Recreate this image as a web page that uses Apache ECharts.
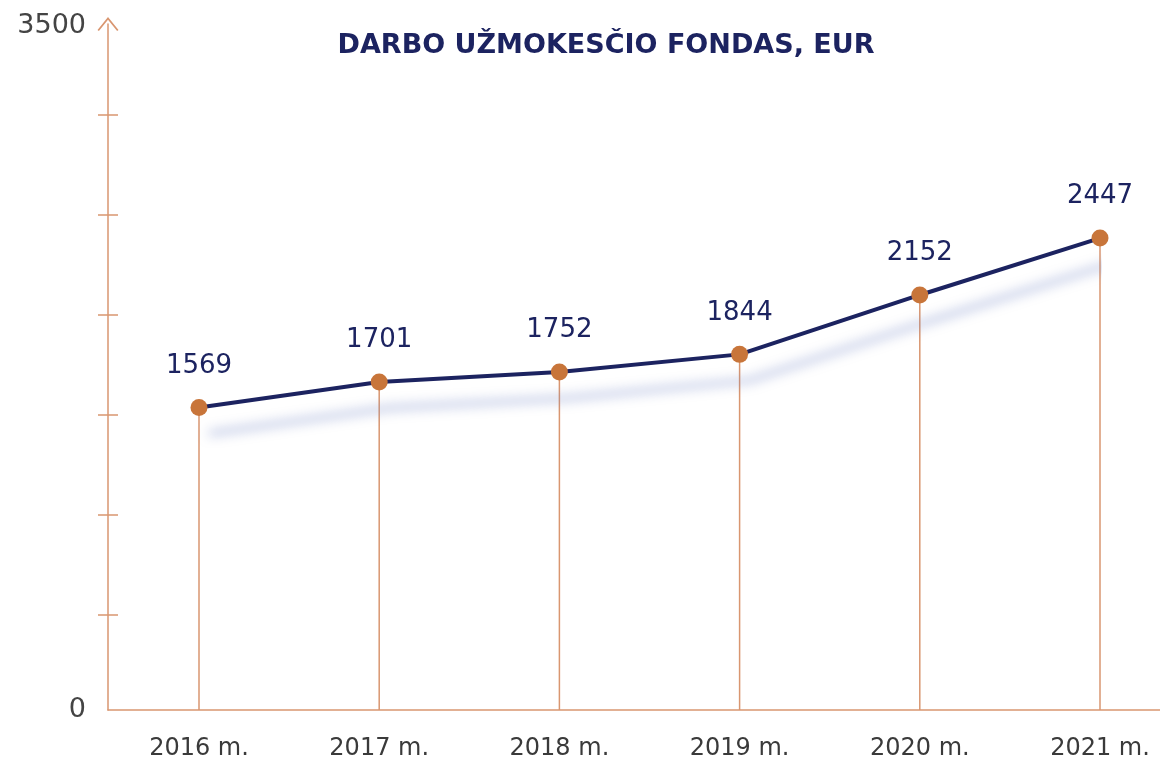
<!DOCTYPE html>
<html>
<head>
<meta charset="utf-8">
<script src="https://cdn.jsdelivr.net/npm/echarts@6/dist/echarts.min.js"></script>
<style>
  html, body { margin: 0; padding: 0; background: #fff; }
  #chart { width: 1160px; height: 763px; }
</style>
</head>
<body>
<div id="chart"></div>
<script>
// values
const years = ["2016 m.", "2017 m.", "2018 m.", "2019 m.", "2020 m.", "2021 m."];
const fund = [1569, 1701, 1752, 1844, 2152, 2447];
const yLabels = [0, 3500];
const yTicks = [500, 1000, 1500, 2000, 2500, 3000];

const orange = "#d99670";
const navy = "#1c2360";
const font = "DejaVu Sans";

const chart = echarts.init(document.getElementById("chart"));

chart.setOption({
  backgroundColor: "#fff",
  animation: false,
  title: {
    text: "DARBO UŽMOKESČIO FONDAS, EUR",
    left: 601,
    top: 27,
    textAlign: "center",
    textStyle: {
      fontFamily: font,
      fontSize: 27,
      fontWeight: "bold",
      color: navy
    }
  },
  grid: [
    // data
    { left: 199, width: 901, top: 35, bottom: 53 },
    // y axis line and arrow
    { left: 108, right: 2, top: 24, bottom: 53 },
    // x axis line and the two y labels
    { left: 108, right: 0, top: 35, bottom: 53 },
    // ticks crossing the y axis line
    { left: 118, right: 2, top: 24, bottom: 53 }
  ],
  xAxis: [
    {
      type: "category",
      gridIndex: 0,
      data: years,
      boundaryGap: false,
      axisLine: { show: false },
      axisTick: { show: false },
      axisLabel: {
        fontFamily: font,
        fontSize: 24,
        color: "#3a3a3a",
        margin: 27
      }
    },
    { type: "value", gridIndex: 1, show: false },
    {
      type: "value",
      gridIndex: 2,
      axisLine: { show: true, lineStyle: { color: orange, width: 1.5 } },
      axisTick: { show: false },
      axisLabel: { show: false },
      splitLine: { show: false }
    },
    { type: "value", gridIndex: 3, show: false }
  ],
  yAxis: [
    { type: "value", gridIndex: 0, min: 0, max: 3500, show: false },
    {
      type: "value",
      gridIndex: 1,
      min: 25,
      max: 3455,
      axisLine: {
        show: true,
        symbol: ["none", "path://M0,13 L10.5,0 L21,13 L19.6,13.9 L10.5,2.6 L1.4,13.9 Z"],
        symbolSize: [21, 14],
        lineStyle: { color: orange, width: 1.5 }
      },
      axisTick: { show: false },
      axisLabel: { show: false },
      splitLine: { show: false }
    },
    {
      type: "value",
      gridIndex: 2,
      min: 0,
      max: 3500,
      interval: 500,
      axisLine: { show: false },
      axisTick: { show: false },
      splitLine: { show: false },
      axisLabel: {
        margin: 22,
        fontFamily: font,
        fontSize: 27,
        color: "#444",
        formatter: v => yLabels.indexOf(v) === -1 ? "" :
          (v === 3500 ? "{top|" + v + "}" : "" + v),
        rich: {
          top: { fontFamily: font, fontSize: 27, color: "#444", padding: [0, 0, 18, 0] }
        }
      }
    },
    {
      type: "value",
      gridIndex: 3,
      min: 25,
      max: 3455,
      axisLine: { show: true, lineStyle: { color: orange, opacity: 0 } },
      axisTick: {
        show: true,
        length: 20,
        customValues: yTicks,
        lineStyle: { color: orange, width: 1.5 }
      },
      axisLabel: { show: false },
      splitLine: { show: false }
    }
  ],
  series: [
    {
      name: "drop",
      type: "bar",
      xAxisIndex: 0,
      yAxisIndex: 0,
      data: fund,
      barWidth: 1.5,
      itemStyle: { color: orange },
      z: 1
    },
    {
      name: "fondas",
      type: "line",
      xAxisIndex: 0,
      yAxisIndex: 0,
      data: fund,
      symbol: "circle",
      symbolSize: 17,
      itemStyle: { color: "#c8753a" },
      lineStyle: {
        color: navy,
        width: 4,
        shadowColor: "rgba(110,130,195,0.65)",
        shadowBlur: 12,
        shadowOffsetX: 10,
        shadowOffsetY: 26
      },
      label: {
        show: true,
        position: "top",
        distance: 20,
        fontFamily: font,
        fontSize: 26,
        color: navy
      },
      z: 3
    }
  ]
});
</script>
</body>
</html>
